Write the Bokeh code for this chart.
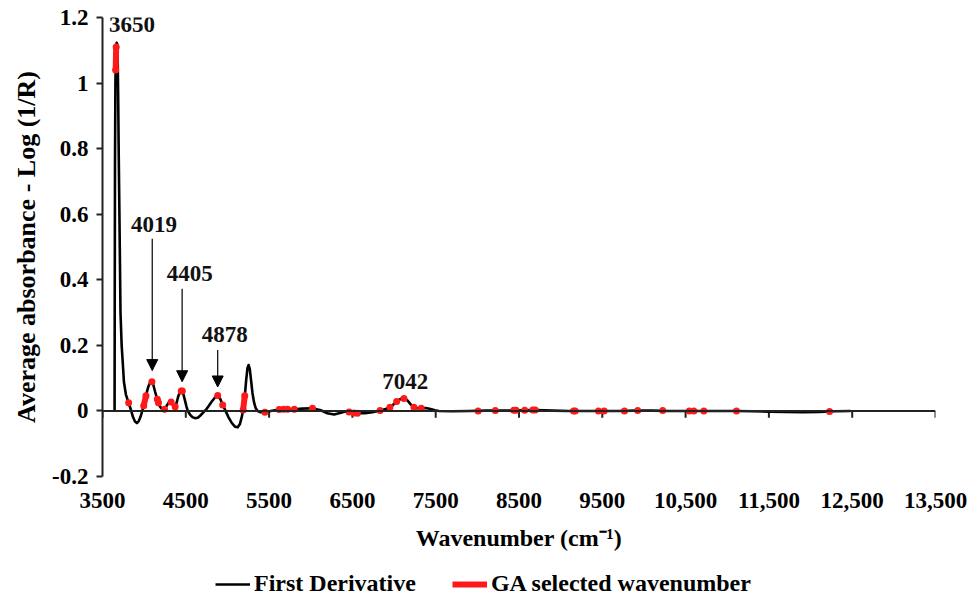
import numpy as np
from bokeh.plotting import figure
from bokeh.layouts import column
from bokeh.models import (Range1d, LinearAxis, FixedTicker, ColumnDataSource, Legend,
                          LegendItem, Arrow, NormalHead, Span, Title)
from bokeh.core.properties import value
from bokeh.embed import file_html
from bokeh.resources import INLINE

nan = float("nan")

# ---- data ----
curve_wn = [3645, 3647, 3650, 3655, 3662, 3670, 3676, 3682, 3688, 3695, 3704, 3716, 3730, 3745,
            3757, 3781, 3800, 3814, 3830, 3845, 3865, 3890, 3913, 3935, 3958, 3977, 3995, 4010,
            4030, 4050, 4070, 4093, 4110, 4130, 4150, 4165, 4185, 4205, 4225, 4245, 4265, 4290,
            4310, 4324, 4340, 4356, 4372, 4390, 4410, 4430, 4452, 4470, 4490, 4508, 4524, 4550,
            4580, 4610, 4644, 4675, 4705, 4740, 4775, 4810, 4850, 4883, 4915, 4943, 4965, 4983,
            5010, 5050, 5090, 5123, 5150, 5175, 5195, 5210, 5225, 5240, 5254, 5268, 5285, 5300,
            5320, 5340, 5362, 5400, 5450, 5520, 5622, 5720, 5802, 5900, 6021, 6120, 6200, 6281,
            6350, 6416, 6480, 6560, 6650, 6740, 6832, 6900, 6951, 6995, 7031, 7075, 7119, 7160,
            7200, 7239, 7280, 7326, 7380, 7438, 7490, 7538, 7700, 7900, 8100, 8300, 8500, 8700,
            8900, 9100, 9300, 9500, 9700, 9900, 10100, 10300, 10500, 10700, 10900, 11100, 11300,
            11500, 11700, 11900, 12100, 12300, 12480]
curve_val = [0.0, 0.35, 0.75, 1.00, 1.10, 1.123, 1.12, 1.08, 0.96, 0.78, 0.58, 0.30, 0.20, 0.14,
             0.089, 0.05, 0.035, 0.025, 0.012, 0.0, -0.018, -0.032, -0.037, -0.031, -0.017, 0.0,
             0.016, 0.033, 0.055, 0.074, 0.086, 0.089, 0.08, 0.06, 0.042, 0.03, 0.016, 0.008,
             0.004, 0.005, 0.013, 0.024, 0.028, 0.027, 0.02, 0.014, 0.013, 0.025, 0.045, 0.058,
             0.062, 0.052, 0.032, 0.013, 0.0, -0.011, -0.019, -0.022, -0.021, -0.014, -0.006,
             0.003, 0.015, 0.028, 0.041, 0.047, 0.036, 0.018, 0.007, -0.003, -0.018, -0.036,
             -0.048, -0.05, -0.04, -0.015, 0.015, 0.05, 0.095, 0.13, 0.14, 0.128, 0.09, 0.055,
             0.025, 0.008, 0.0, -0.004, -0.004, 0.0, 0.004, 0.005, 0.005, 0.007, 0.008, 0.002,
             -0.007, -0.011, -0.006, -0.002, -0.004, -0.007, -0.007, -0.004, 0.001, 0.006, 0.011,
             0.02, 0.029, 0.036, 0.038, 0.032, 0.02, 0.011, 0.008, 0.008, 0.009, 0.006, 0.002,
             0.0, -0.001, 0.0, 0.001, 0.001, 0.002, 0.003, 0.001, 0.0, 0.0, 0.0, 0.0, 0.001,
             0.001, 0.0, 0.0, 0.0, 0.0, 0.0, -0.001, -0.002, -0.003, -0.004, -0.003, -0.001, 0.0]

# GA selected wavenumbers (NaN separates the runs)
ga_wn = [3658, 3664, nan, 3814, nan, 3995, 4022, nan, 4093, nan, 4158, 4172, nan, 4245, nan,
         4324, nan, 4372, nan, 4445, 4458, nan, 4883, nan, 4943, nan, 5188, 5208, nan, 5450, nan,
         5622, nan, 5674, nan, 5722, nan, 5802, nan, 6021, nan, 6460, nan, 6520, nan, 6560, nan,
         6832, nan, 6951, nan, 7031, nan, 7119, nan, 7239, nan, 7326, nan, 8009, nan, 8216, nan,
         8437, nan, 8464, nan, 8568, nan, 8665, nan, 8695, nan, 9155, 9174, nan, 9454, nan, 9522,
         nan, 9766, nan, 9925, nan, 10225, nan, 10544, nan, 10599, nan, 10719, nan, 11111, nan,
         12228]
ga_val = [1.04, 1.11, nan, 0.025, nan, 0.016, 0.046, nan, 0.089, nan, 0.036, 0.025, nan, 0.005,
          nan, 0.027, nan, 0.013, nan, 0.061, 0.061, nan, 0.047, nan, 0.018, nan, 0.003, 0.046,
          nan, -0.004, nan, 0.004, nan, 0.005, nan, 0.005, nan, 0.005, nan, 0.008, nan, -0.003,
          nan, -0.006, nan, -0.007, nan, 0.001, nan, 0.011, nan, 0.029, nan, 0.038, nan, 0.011,
          nan, 0.008, nan, 0.0, nan, 0.001, nan, 0.002, nan, 0.002, nan, 0.002, nan, 0.003, nan,
          0.003, nan, 0.0, 0.0, nan, 0.0, nan, 0.0, nan, 0.0, nan, 0.001, nan, 0.001, nan, 0.0,
          nan, 0.0, nan, 0.0, nan, 0.0, nan, -0.002]

peak_labels = ["3650", "4019", "4405", "4878", "7042"]
label_wn = [3853, 4117, 4548, 4967, 7135]
label_val = [1.179, 0.568, 0.418, 0.232, 0.089]

arrow_wn = [4097, 4456, 4883]
arrow_top = [0.525, 0.373, 0.186]
arrow_tip = [0.123, 0.089, 0.073]

x_ticks = [3500, 4500, 5500, 6500, 7500, 8500, 9500, 10500, 11500, 12500, 13500]
x_tick_labels = ["3500", "4500", "5500", "6500", "7500", "8500", "9500",
                 "10,500", "11,500", "12,500", "13,500"]
y_ticks = [-0.2, 0.0, 0.2, 0.4, 0.6, 0.8, 1.0, 1.2]
y_tick_labels = ["-0.2", "0", "0.2", "0.4", "0.6", "0.8", "1", "1.2"]

series_names = ["First Derivative", "GA selected wavenumber"]

FONT = "Liberation Serif"
AXIS_COLOR = "#222222"
RED = "#ff1a1a"

p = figure(width=974, height=560, x_range=Range1d(3500, 13500), y_range=Range1d(-0.2, 1.2),
           x_axis_type=None, y_axis_type=None, output_backend="svg", toolbar_location=None,
           min_border_left=99, min_border_right=39, min_border_top=17, min_border_bottom=84)
p.outline_line_color = None
p.background_fill_color = "white"
p.border_fill_color = "white"

# y axis
yax = LinearAxis(ticker=FixedTicker(ticks=y_ticks),
                 major_label_overrides=dict(zip(y_ticks, y_tick_labels)))
yax.axis_line_width = 2
yax.axis_line_color = AXIS_COLOR
yax.major_tick_line_width = 2
yax.major_tick_line_color = AXIS_COLOR
yax.major_tick_in = 0
yax.major_tick_out = 6
yax.minor_tick_line_color = None
yax.major_label_text_font = FONT
yax.major_label_text_font_style = "bold"
yax.major_label_text_font_size = "23px"
yax.major_label_text_color = "black"
yax.major_label_standoff = 8
p.add_layout(yax, "left")

ytitle = Title(text="Average absorbance - Log (1/R)", align="center", offset=55,
               text_font=FONT, text_font_style="bold", text_font_size="26px",
               text_color="black", standoff=18)
p.add_layout(ytitle, "left")

# x tick labels and title at the bottom
xax = LinearAxis(ticker=FixedTicker(ticks=x_ticks),
                 major_label_overrides=dict(zip(x_ticks, x_tick_labels)),
                 axis_label="Wavenumber (cm\u207b\u00b9)")
xax.axis_line_color = None
xax.major_tick_line_color = None
xax.minor_tick_line_color = None
xax.major_label_text_font = FONT
xax.major_label_text_font_style = "bold"
xax.major_label_text_font_size = "23px"
xax.major_label_text_color = "black"
xax.major_label_standoff = 10
xax.axis_label_text_font = FONT
xax.axis_label_text_font_style = "bold"
xax.axis_label_text_font_size = "24px"
xax.axis_label_text_color = "black"
xax.axis_label_standoff = 14
p.add_layout(xax, "below")

# x axis line crossing at y = 0, with its tick marks below it
p.add_layout(Span(location=0, dimension="width", line_color=AXIS_COLOR, line_width=2))
p.segment(x0=x_ticks, y0=[0.0] * len(x_ticks), x1=x_ticks, y1=[-0.021] * len(x_ticks),
          line_color=AXIS_COLOR, line_width=2)

p.line(curve_wn, curve_val, line_color="black", line_width=2.6, line_join="round")
p.line(ga_wn, ga_val, line_color=RED, line_width=6, line_cap="round")
p.scatter(ga_wn, ga_val, size=7, marker="circle", fill_color=RED, line_color=None)

lab_src = ColumnDataSource(dict(x=label_wn, y=label_val, t=peak_labels))
p.text(x="x", y="y", text="t", source=lab_src, text_font=value(FONT), text_font_style="bold",
       text_font_size="23px", text_align="center", text_baseline="middle", text_color="#111111")

arr_src = ColumnDataSource(dict(x0=arrow_wn, y0=arrow_top, x1=arrow_wn, y1=arrow_tip))
p.add_layout(Arrow(end=NormalHead(size=11, fill_color="black", line_color="black"),
                   x_start="x0", y_start="y0", x_end="x1", y_end="y1", source=arr_src,
                   line_color="black", line_width=1.2))

# legend strip below the chart (series drawn outside its visible range, only the key shows)
lf = figure(width=974, height=42, x_range=Range1d(0, 1), y_range=Range1d(0, 1),
            x_axis_type=None, y_axis_type=None, output_backend="svg", toolbar_location=None,
            min_border_left=0, min_border_right=0, min_border_top=0, min_border_bottom=0)
lf.outline_line_color = None
lf.background_fill_color = "white"
lf.border_fill_color = "white"
r_black = lf.line(curve_wn, curve_val, line_color="black", line_width=2.6)
r_red = lf.line(ga_wn, ga_val, line_color=RED, line_width=6)

legend = Legend(items=[LegendItem(label=series_names[0], renderers=[r_black]),
                       LegendItem(label=series_names[1], renderers=[r_red])],
                orientation="horizontal", location=(113, 5))
legend.border_line_color = None
legend.background_fill_alpha = 0
legend.label_text_font = FONT
legend.label_text_font_style = "bold"
legend.label_text_font_size = "24px"
legend.label_text_color = "black"
legend.glyph_width = 35
legend.label_standoff = 4
legend.spacing = 36
legend.padding = 2
legend.margin = 0
lf.add_layout(legend, "center")

layout = column(p, lf, spacing=0)
open("out.html", "w").write(file_html(layout, INLINE))
